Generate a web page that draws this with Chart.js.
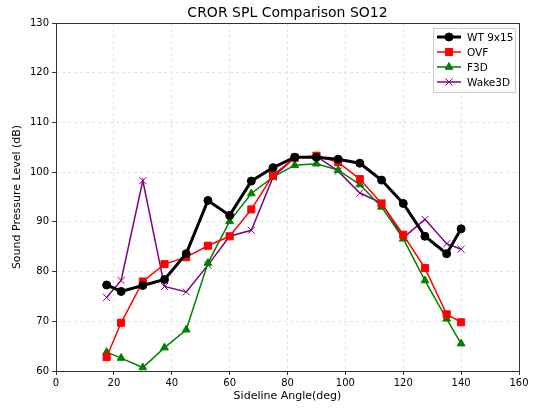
<!DOCTYPE html>
<html>
<head>
<meta charset="utf-8">
<script src="https://cdn.jsdelivr.net/npm/chart.js@4.4.1/dist/chart.umd.min.js"></script>
<style>
  html, body { margin: 0; padding: 0; background: #fff; }
  #wrap { width: 534px; height: 410px; }
</style>
</head>
<body>
<div id="wrap"><canvas id="myChart"></canvas></div>
<script>
// sideline angles (deg)
var angles = [17.5, 22.5, 30, 37.5, 45, 52.5, 60, 67.5, 75, 82.5, 90, 97.5, 105, 112.5, 120, 127.5, 135, 140];

// SPL values (dB)
var wtValues    = [77.3, 76.0, 77.2, 78.4, 83.6, 94.3, 91.3, 98.2, 100.9, 103.0, 103.0, 102.6, 101.8, 98.4, 93.7, 87.1, 83.6, 88.6];
var ovfValues   = [62.8, 69.7, 78.0, 81.5, 82.9, 85.2, 87.1, 92.5, 99.4, 102.9, 103.3, 102.0, 98.6, 93.7, 87.4, 80.7, 71.4, 69.8];
var f3dValues   = [63.8, 62.6, 60.7, 64.7, 68.3, 81.7, 90.1, 95.7, 99.0, 101.4, 101.7, 100.4, 97.5, 93.0, 86.6, 78.2, 70.5, 65.5];
var wakeValues  = [74.8, 78.2, 98.3, 77.0, 75.9, 81.3, 87.1, 88.3, 99.0, 102.9, 103.2, 100.2, 95.8, 93.8, 86.8, 90.5, 85.6, 84.5];

var seriesNames = ['WT 9x15', 'OVF', 'F3D', 'Wake3D'];

function toPoints(vals) {
  var pts = [];
  for (var i = 0; i < vals.length; i++) pts.push({x: angles[i], y: vals[i]});
  return pts;
}

var FONT = "'DejaVu Sans', sans-serif";

// draws the frame, title and the matplotlib style legend inside the plot
var framePlugin = {
  id: 'frame',
  afterDraw: function(chart) {
    var ctx = chart.ctx;
    var a = chart.chartArea;
    ctx.save();
    ctx.strokeStyle = '#333';
    ctx.lineWidth = 1;
    ctx.strokeRect(a.left + 0.5, a.top + 0.5, a.right - a.left, a.bottom - a.top);

    ctx.fillStyle = '#000';
    ctx.font = '14px ' + FONT;
    ctx.textAlign = 'center';
    ctx.textBaseline = 'middle';
    ctx.fillText('CROR SPL Comparison SO12', (a.left + a.right) / 2, 13);

    // legend box
    var bx = 433, by = 28, bw = 82, bh = 64;
    ctx.fillStyle = 'rgba(255,255,255,0.8)';
    ctx.strokeStyle = '#ccc';
    ctx.lineWidth = 1;
    ctx.beginPath();
    ctx.rect(bx + 0.5, by + 0.5, bw, bh);
    ctx.fill();
    ctx.stroke();

    ctx.font = '10.5px ' + FONT;
    ctx.textAlign = 'left';
    chart.data.datasets.forEach(function(ds, i) {
      var y = by + 9 + i * 15;
      ctx.setLineDash([]);
      ctx.strokeStyle = ds.borderColor;
      ctx.lineWidth = ds.borderWidth;
      ctx.beginPath();
      ctx.moveTo(bx + 4, y);
      ctx.lineTo(bx + 28, y);
      ctx.stroke();
      ctx.fillStyle = ds.pointBackgroundColor;
      ctx.strokeStyle = ds.pointBorderColor;
      ctx.lineWidth = 1;
      Chart.helpers.drawPoint(ctx, {
        pointStyle: ds.pointStyle,
        radius: ds.pointRadius,
        borderWidth: 1
      }, bx + 16, y);
      ctx.fillStyle = '#000';
      ctx.fillText(ds.label, bx + 34, y + 1);
    });
    ctx.restore();
  }
};

var gridOpts = {
  color: '#e3e3e3',
  tickColor: '#333',
  tickLength: 4,
  tickBorderDash: [],
  drawTicks: true
};
var borderOpts = { display: false, dash: [3, 3] };

var ctx = document.getElementById('myChart');
var myChart = new Chart(ctx, {
  type: 'line',
  data: {
    datasets: [
      {
        label: seriesNames[0], data: toPoints(wtValues),
        borderColor: '#000', backgroundColor: '#000',
        pointBackgroundColor: '#000', pointBorderColor: '#000',
        borderWidth: 3, pointStyle: 'circle', pointRadius: 4, pointBorderWidth: 1
      },
      {
        label: seriesNames[1], data: toPoints(ovfValues),
        borderColor: '#ff0000', backgroundColor: '#ff0000',
        pointBackgroundColor: '#ff0000', pointBorderColor: '#ff0000',
        borderWidth: 1.5, pointStyle: 'rect', pointRadius: 5, pointBorderWidth: 1
      },
      {
        label: seriesNames[2], data: toPoints(f3dValues),
        borderColor: '#008000', backgroundColor: '#008000',
        pointBackgroundColor: '#008000', pointBorderColor: '#008000',
        borderWidth: 1.5, pointStyle: 'triangle', pointRadius: 4.5, pointBorderWidth: 1
      },
      {
        label: seriesNames[3], data: toPoints(wakeValues),
        borderColor: '#800080', backgroundColor: '#800080',
        pointBackgroundColor: '#800080', pointBorderColor: '#800080',
        borderWidth: 1.5, pointStyle: 'crossRot', pointRadius: 5, pointBorderWidth: 1
      }
    ]
  },
  options: {
    responsive: true,
    maintainAspectRatio: false,
    animation: false,
    layout: { padding: { top: 23, right: 15, left: 0, bottom: 0 } },
    plugins: {
      legend: { display: false },
      title: { display: false },
      tooltip: { enabled: false }
    },
    elements: { line: { tension: 0 } },
    scales: {
      x: {
        type: 'linear', min: 0, max: 160,
        ticks: { stepSize: 20, color: '#000', font: { family: FONT, size: 10 }, padding: 2, maxRotation: 0 },
        grid: gridOpts,
        border: borderOpts,
        title: { display: true, text: 'Sideline Angle(deg)', color: '#000', font: { family: FONT, size: 11 }, padding: { top: 2, bottom: 7 } },
        afterFit: function(scale) { scale.height = 39; }
      },
      y: {
        type: 'linear', min: 60, max: 130,
        ticks: { stepSize: 10, color: '#000', font: { family: FONT, size: 10 }, padding: 3 },
        grid: gridOpts,
        border: borderOpts,
        title: { display: true, text: 'Sound Pressure Level (dB)', color: '#000', font: { family: FONT, size: 11 }, padding: { top: 11, bottom: 4 } },
        afterFit: function(scale) { scale.width = 56; }
      }
    }
  },
  plugins: [framePlugin]
});
</script>
</body>
</html>
